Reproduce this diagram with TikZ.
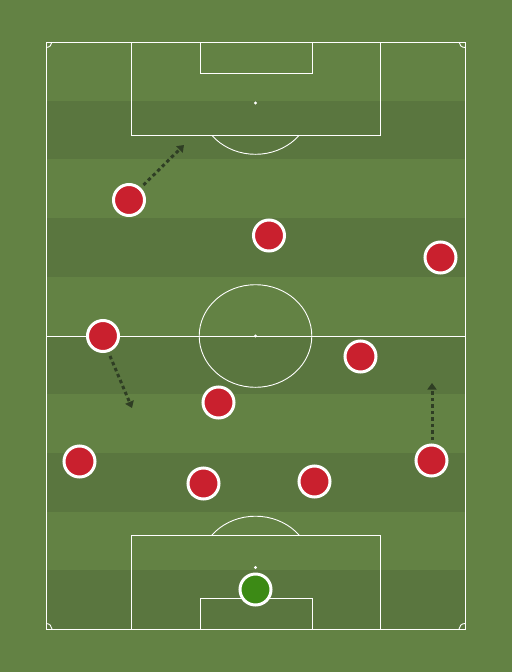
\documentclass[tikz,border=0pt]{standalone}
\usetikzlibrary{arrows.meta}
\definecolor{grassL}{HTML}{638244}
\definecolor{grassD}{HTML}{5A763F}
\definecolor{plred}{HTML}{C9202E}
\definecolor{gkgreen}{HTML}{3C8A15}
\definecolor{runcol}{HTML}{2F3E24}
\tikzset{
  pline/.style={draw=white, line width=0.9pt},
  player/.style={circle, draw=white, line width=3pt, fill=plred, minimum size=31pt, inner sep=0pt},
  keeper/.style={player, fill=gkgreen},
  run/.style={draw=runcol, line width=3pt, dash pattern=on 3.5pt off 3pt, -{Triangle[length=6.5pt,width=9pt]}},
}
\begin{document}
\begin{tikzpicture}[x=1pt,y=-1pt]
\useasboundingbox (0,0) rectangle (512,672);
\fill[grassL] (0,0) rectangle (512,672);
% stripes
\foreach \i in {1,3,5,7,9} {
  \fill[grassD] (46,{42+\i*58.7}) rectangle (465,{42+(\i+1)*58.7});
}
% outline
\draw[pline] (46,42) rectangle (465,629);
\draw[pline] (46,336) -- (465,336);
\draw[pline] (255.5,336) ellipse [x radius=56.3, y radius=51.3];
\fill[white] (255.5,336) circle (1.6);
% top penalty area
\draw[pline] (131,42) rectangle (380,135);
\draw[pline] (200,42) rectangle (312,73);
\fill[white] (255.5,103) circle (1.6);
\begin{scope}
\clip (100,135) rectangle (420,200);
\draw[pline] (255.5,103) ellipse [x radius=56.3, y radius=51.3];
\end{scope}
% bottom penalty area
\draw[pline] (131,535) rectangle (380,629);
\draw[pline] (200,598) rectangle (312,629);
\fill[white] (255.5,567.5) circle (1.6);
\begin{scope}
\clip (100,470) rectangle (420,535);
\draw[pline] (255.5,567.5) ellipse [x radius=56.3, y radius=51.3];
\end{scope}
% corner arcs
\begin{scope}
\clip (46,42) rectangle (465,629);
\foreach \cx/\cy in {46/42, 465/42, 46/629, 465/629}
  \draw[pline] (\cx,\cy) ellipse [x radius=6, y radius=5.5];
\end{scope}
% players
\node[player] (p1) at (129,200) {};
\node[player] (p2) at (269,235.5) {};
\node[player] (p3) at (440.5,257.5) {};
\node[player] (p4) at (103,336) {};
\node[player] (p5) at (360.5,356.5) {};
\node[player] (p6) at (218.5,402.5) {};
\node[player] (p7) at (79.5,461.5) {};
\node[player] (p8) at (203.5,483.5) {};
\node[player] (p9) at (314.5,481.5) {};
\node[player] (p10) at (431.5,460.5) {};
\node[keeper] (gk) at (255.5,589.5) {};
% runs
\coordinate (s1) at (143.5,185);
\coordinate (t1) at (184,145);
\coordinate (s4) at (110,356);
\coordinate (t4) at (132,408);
\coordinate (s10) at (432,440);
\coordinate (t10) at (432,383);
\draw[run] (s1) -- (t1);
\draw[run] (s4) -- (t4);
\draw[run] (s10) -- (t10);
\end{tikzpicture}
\end{document}
